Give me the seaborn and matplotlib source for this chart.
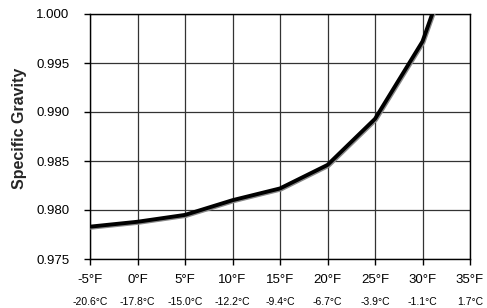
import matplotlib
matplotlib.use('Agg')
import numpy as np
import pandas as pd
import seaborn as sns
import matplotlib.pyplot as plt
import matplotlib.patheffects as pe

# values
temp_f = [-5, 0, 5, 10, 15, 20, 25, 30, 35]
spec_grav = [0.9783, 0.9788, 0.9795, 0.9810, 0.9822, 0.9846, 0.9893, 0.9972, 1.0109]
f_labels = ['-5°F', '0°F', '5°F', '10°F', '15°F', '20°F', '25°F', '30°F', '35°F']
c_labels = ['-20.6°C', '-17.8°C', '-15.0°C', '-12.2°C', '-9.4°C', '-6.7°C', '-3.9°C', '-1.1°C', '1.7°C']
y_ticks = [0.975, 0.980, 0.985, 0.990, 0.995, 1.000]

sns.set_theme(style='white')
plt.rcParams['font.family'] = ['Liberation Sans', 'DejaVu Sans']

df = pd.DataFrame({'temp': temp_f, 'sg': spec_grav})

fig = plt.figure(figsize=(4.87, 3.08), dpi=100)
ax = fig.add_axes([90/487, 49/308, 380/487, 245/308])

sns.lineplot(data=df, x='temp', y='sg', ax=ax, color='black', lw=2.8,
             path_effects=[pe.SimpleLineShadow(offset=(0.7, -0.8), shadow_color='#888888', alpha=1),
                           pe.Normal()], zorder=3)

ax.set_xlim(-5, 35)
ax.set_ylim(0.975, 1.000)
ax.set_xticks(temp_f)
ax.set_xticklabels(f_labels, fontsize=9.5)
ax.set_yticks(y_ticks)
ax.set_yticklabels(['%.3f' % v for v in y_ticks], fontsize=9.5)
ax.grid(True, color='#333333', lw=0.9)
for s in ax.spines.values():
  s.set_color('black')
  s.set_linewidth(1.0)
ax.tick_params(axis='both', direction='out', length=4, width=1, color='black',
               bottom=True, left=True, labelcolor='black')
ax.tick_params(axis='x', pad=7)
ax.tick_params(axis='y', pad=11)
ax.set_xlabel('')
ax.set_ylabel('Specific Gravity', fontsize=11.5, fontweight='bold')
ax.yaxis.set_label_coords(-0.165, 0.535)

# Celsius row under the Fahrenheit labels
sec = ax.secondary_xaxis(-0.155)
sec.set_xticks(temp_f)
sec.set_xticklabels(c_labels, fontsize=7.5)
sec.tick_params(length=0, pad=0, labelcolor='black')
sec.spines['bottom'].set_visible(False)

# title sits mostly above the visible canvas, as in the original
fig.text(0.50, 1.012, 'Specific Gravity', ha='center', va='baseline',
         fontsize=11, fontweight='bold')

fig.savefig('out.png', dpi=100)
